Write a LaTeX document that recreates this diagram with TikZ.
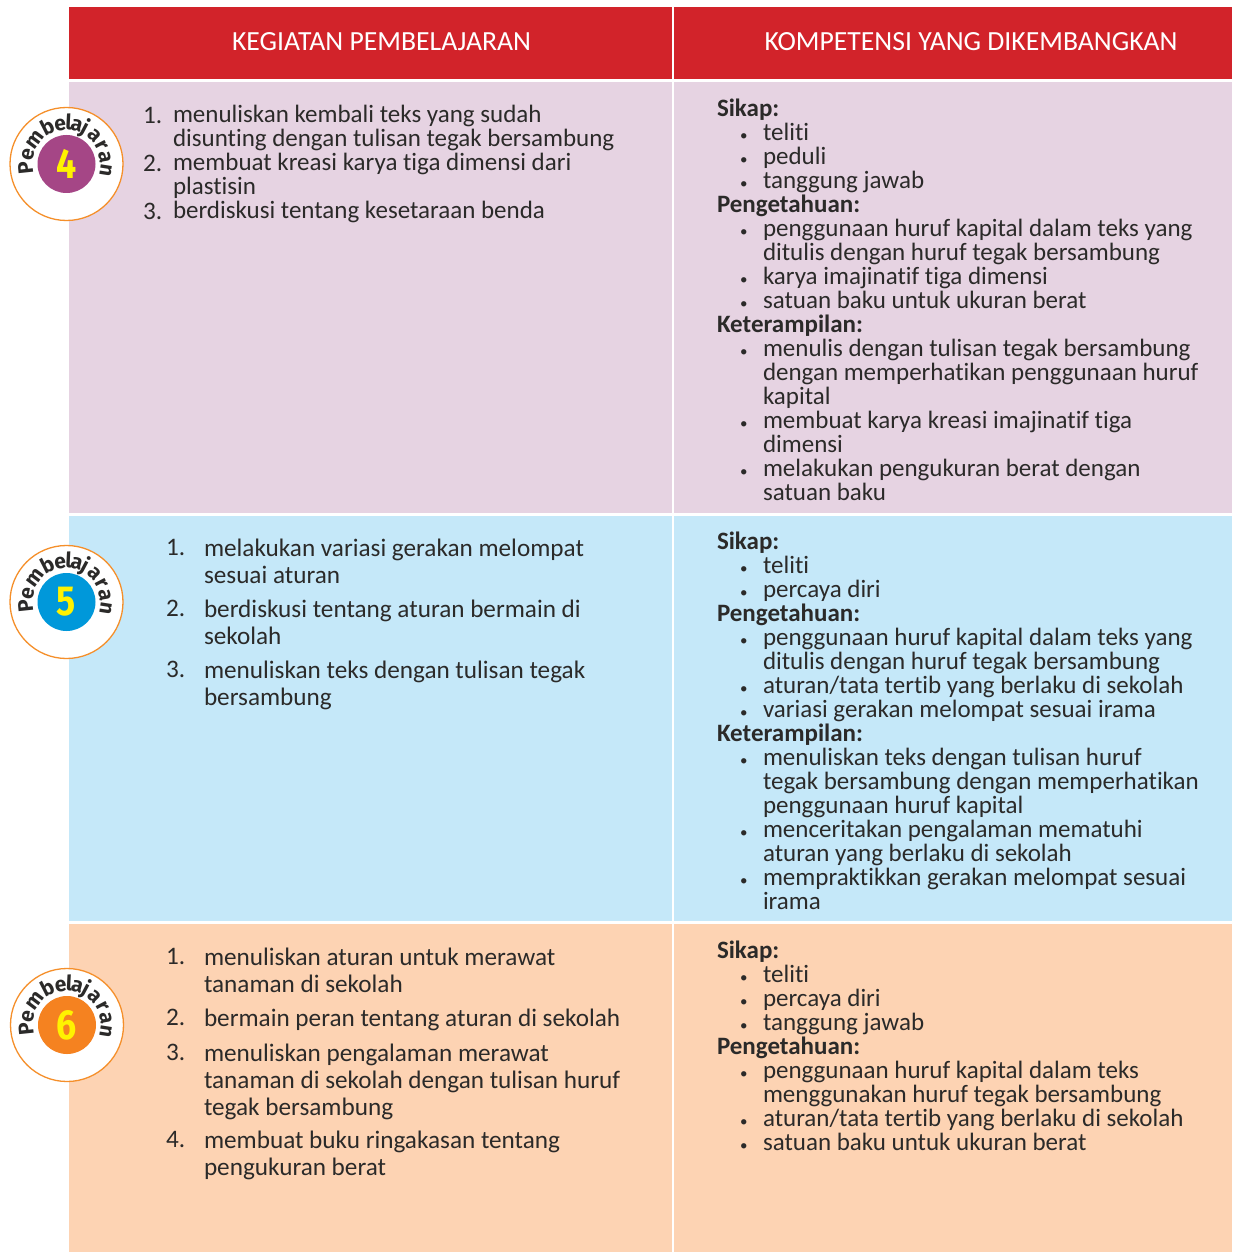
\documentclass[tikz,border=0pt]{standalone}
\usepackage{fontspec}
\setmainfont[Ligatures=NoCommon]{Carlito}
\newfontfamily\ringfont{Fira Sans}
\usetikzlibrary{calc}
\definecolor{redh}{HTML}{D2232A}
\definecolor{pinkc}{HTML}{E6D3E2}
\definecolor{bluec}{HTML}{C5E8F9}
\definecolor{orangec}{HTML}{FDD3B3}
\definecolor{ringc}{HTML}{F58F2A}
\definecolor{ink}{HTML}{2B2A29}
\definecolor{purp}{HTML}{A54686}
\definecolor{blu}{HTML}{0098DA}
\definecolor{org}{HTML}{F58220}
\definecolor{yel}{HTML}{FFF200}
\newcommand{\bl}{\hspace*{23pt}\makebox[23pt][l]{\fontsize{15}{15}\selectfont •}}
\newcommand{\cn}{\hspace*{46pt}}
\newcommand{\hd}[1]{\textbf{#1}}
\newcommand{\fontA}{\fontsize{25}{24}\selectfont\setlength{\lineskiplimit}{-100pt}}
\newcommand{\fontB}{\fontsize{25.2}{27}\selectfont\setlength{\lineskiplimit}{-100pt}}
\tikzset{
  x=1pt,y=1pt,
  cell/.style={inner sep=0pt,outer sep=0pt,anchor=north west,draw=none},
  head/.style={text=white,font=\fontsize{27.7}{24}\selectfont,inner sep=0pt},
  listtext/.style={cell,align=left,text=ink,font=\fontA},
  looselist/.style={cell,align=left,text=ink,font=\fontB},
  numtext/.style={cell,text=ink,font=\fontsize{25.2}{24}\selectfont},
  ringletter/.style={inner sep=0pt,outer sep=0pt,anchor=base,text=ink,font=\ringfont\bfseries\fontsize{21}{21}\selectfont},
}
\newcommand{\badge}[5]{%
  \node[circle,fill=white,draw=ringc,line width=1.3pt,minimum size=113pt,inner sep=0pt] (#1) at (#2,#3) {};
  \node[circle,fill=#4,minimum size=58pt,inner sep=0pt] (#1c) at (#2,#3) {};
  \node[text=yel,font=\ringfont\bfseries\fontsize{42}{42}\selectfont,inner sep=0pt,xscale=.85] (#1n) at (#2,#3) {#5};
  \foreach \ang/\ch/\i in {186/P/1,167/e/2,143/m/3,117/b/4,99/e/5,87/l/6,75/a/7,62/j/8,45/a/9,28/r/10,10/a/11,-9/n/12}{
    \pgfmathsetmacro{\rot}{\ang-90}
    \node[ringletter,rotate=\rot] (#1l\i) at ($(#2,#3)+(\ang:34)$) {\ch};
  }
}
\begin{document}
\begin{tikzpicture}
\useasboundingbox (0,0) rectangle (1232,-1252);
\fill[white] (0,0) rectangle (1232,-1252);
% band fills
\fill[redh] (69,-7) rectangle (672,-79);
\fill[redh] (674,-7) rectangle (1232,-79);
\fill[pinkc] (69,-82) rectangle (672,-513);
\fill[pinkc] (674,-82) rectangle (1232,-513);
\fill[bluec] (69,-516) rectangle (672,-921);
\fill[bluec] (674,-516) rectangle (1232,-921);
\fill[orangec] (69,-924) rectangle (672,-1252);
\fill[orangec] (674,-924) rectangle (1232,-1252);
% headers
\node[head] (h1) at (381.5,-42) {KEGIATAN PEMBELAJARAN};
\node[head] (h2) at (971,-42) {KOMPETENSI YANG DIKEMBANGKAN};
% badges
\badge{b4}{66.5}{-164}{purp}{4}
\badge{b5}{66.5}{-602}{blu}{5}
\badge{b6}{67}{-1025}{org}{6}
% pink left
\node[numtext] (n41) at (143,-107) {\strut 1.};
\node[numtext] (n42) at (143,-155) {\strut 2.};
\node[numtext] (n43) at (143,-203) {\strut 3.};
\node[listtext] (t4) at (173,-105) {\strut menuliskan kembali teks yang sudah\\disunting dengan tulisan tegak bersambung\\membuat kreasi karya tiga dimensi dari\\plastisin\\berdiskusi tentang kesetaraan benda};
% blue left
\node[numtext] (n51) at (166,-539) {\strut 1.};
\node[numtext] (n52) at (166,-600) {\strut 2.};
\node[numtext] (n53) at (166,-661) {\strut 3.};
\node[looselist] (t51) at (204,-538) {\strut melakukan variasi gerakan melompat\\sesuai aturan};
\node[looselist] (t52) at (204,-599) {\strut berdiskusi tentang aturan bermain di\\sekolah};
\node[looselist] (t53) at (204,-660) {\strut menuliskan teks dengan tulisan tegak\\bersambung};
% orange left
\node[numtext] (n61) at (166,-948) {\strut 1.};
\node[numtext] (n62) at (166,-1009) {\strut 2.};
\node[numtext] (n63) at (166,-1044) {\strut 3.};
\node[numtext] (n64) at (166,-1131) {\strut 4.};
\node[looselist] (t61) at (204,-947) {\strut menuliskan aturan untuk merawat\\tanaman di sekolah};
\node[looselist] (t62) at (204,-1008) {\strut bermain peran tentang aturan di sekolah};
\node[looselist] (t63) at (204,-1043) {\strut menuliskan pengalaman merawat\\tanaman di sekolah dengan tulisan huruf\\tegak bersambung};
\node[looselist] (t64) at (204,-1130) {\strut membuat buku ringakasan tentang\\pengukuran berat};
% pink right
\node[listtext] (r4) at (717,-99) {\strut\hd{Sikap:}\\
\bl teliti\\\bl peduli\\\bl tanggung jawab\\
\hd{Pengetahuan:}\\
\bl penggunaan huruf kapital dalam teks yang\\\cn ditulis dengan huruf tegak bersambung\\
\bl karya imajinatif tiga dimensi\\\bl satuan baku untuk ukuran berat\\
\hd{Keterampilan:}\\
\bl menulis dengan tulisan tegak bersambung\\\cn dengan memperhatikan penggunaan huruf\\\cn kapital\\
\bl membuat karya kreasi imajinatif tiga\\\cn dimensi\\
\bl melakukan pengukuran berat dengan\\\cn satuan baku};
% blue right
\node[listtext] (r5) at (717,-532) {\strut\hd{Sikap:}\\
\bl teliti\\\bl percaya diri\\
\hd{Pengetahuan:}\\
\bl penggunaan huruf kapital dalam teks yang\\\cn ditulis dengan huruf tegak bersambung\\
\bl aturan/tata tertib yang berlaku di sekolah\\\bl variasi gerakan melompat sesuai irama\\
\hd{Keterampilan:}\\
\bl menuliskan teks dengan tulisan huruf\\\cn tegak bersambung dengan memperhatikan\\\cn penggunaan huruf kapital\\
\bl menceritakan pengalaman mematuhi\\\cn aturan yang berlaku di sekolah\\
\bl mempraktikkan gerakan melompat sesuai\\\cn irama};
% orange right
\node[listtext] (r6) at (717,-941) {\strut\hd{Sikap:}\\
\bl teliti\\\bl percaya diri\\\bl tanggung jawab\\
\hd{Pengetahuan:}\\
\bl penggunaan huruf kapital dalam teks\\\cn menggunakan huruf tegak bersambung\\
\bl aturan/tata tertib yang berlaku di sekolah\\\bl satuan baku untuk ukuran berat};
\end{tikzpicture}
\end{document}
